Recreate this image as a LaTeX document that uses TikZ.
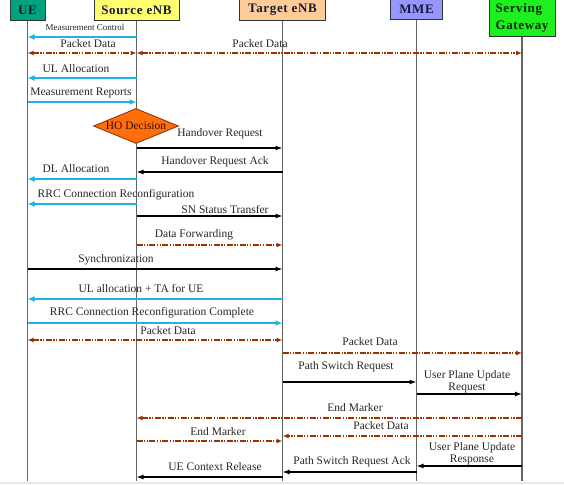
\documentclass[tikz,border=0pt]{standalone}
\usepackage{fontspec}
\setmainfont{Liberation Serif}
\newfontfamily\hdrfont[LetterSpace=5]{Liberation Serif}
\usetikzlibrary{arrows.meta,shapes.geometric}
\definecolor{cy}{RGB}{30,180,230}
\definecolor{br}{RGB}{153,51,0}
\definecolor{lg}{RGB}{100,100,100}
\definecolor{uef}{RGB}{0,163,125}
\definecolor{srcf}{RGB}{255,255,110}
\definecolor{tgtf}{RGB}{255,204,153}
\definecolor{mmef}{RGB}{150,150,255}
\definecolor{sgwf}{RGB}{30,240,30}
\definecolor{hof}{RGB}{255,110,10}
\definecolor{hdtxt}{RGB}{25,25,55}
\definecolor{band}{RGB}{228,233,240}
\tikzset{
  x=1pt, y=-1pt,
  hdr/.style={draw=black!80, line width=0.8pt, inner sep=0pt, font=\hdrfont\fontsize{13}{14}\selectfont\bfseries, text=hdtxt},
  life/.style={draw=lg, line width=1.3pt},
  lbl/.style={inner sep=0pt, font=\fontsize{11.5}{12}\selectfont, text=black!85},
  smlbl/.style={inner sep=0pt, font=\fontsize{9}{10}\selectfont, text=black!85},
  cyanmsg/.style={draw=cy, line width=1.8pt, -{Latex[length=7pt,width=6pt]}},
  blackmsg/.style={draw=black, line width=1.2pt, -{Latex[length=7pt,width=5pt]}},
  brmsg/.style={draw=br, line width=1.4pt, dash pattern=on 6pt off 1.5pt on 1.2pt off 1.5pt on 1.2pt off 1.5pt, -{Latex[length=6pt,width=5pt]}},
  brmsgb/.style={brmsg, {Latex[length=6pt,width=5pt]}-{Latex[length=6pt,width=5pt]}},
}
\begin{document}
\begin{tikzpicture}
\useasboundingbox (0,0) rectangle (564,484);
\fill[band] (0,482) rectangle (564,484);
% header boxes
\node[hdr, fill=uef, minimum width=35pt, minimum height=21pt] (ue) at (27.5,10) {UE};
\node[hdr, fill=srcf, minimum width=85pt, minimum height=21pt] (src) at (136.5,10) {Source eNB};
\node[hdr, fill=tgtf, minimum width=86pt, minimum height=21pt] (tgt) at (282.5,10) {Target eNB};
\node[hdr, fill=mmef, minimum width=52pt, minimum height=20pt] (mme) at (416.5,9.5) {MME};
\node[hdr, fill=sgwf, minimum width=66pt, minimum height=37pt, align=left, text=black!75!green!60!black, font=\hdrfont\fontsize{13}{16.5}\selectfont\bfseries] (sgw) at (522,18) {Serving\\Gateway};
% bottom coordinate
\coordinate (bot) at (0,481);
% lifelines
\draw[life] (ue.south) -- (ue.south |- bot);
\draw[life] (src.south) -- (src.south |- bot);
\draw[life] (tgt.south) -- (tgt.south |- bot);
\draw[life] (mme.south) -- (mme.south |- bot);
\draw[life] (sgw.south) -- (sgw.south |- bot);
% rows
\foreach \n/\y in {r1/37, r2/53, r3/78, r4/102, r5/148, r6/172, r7/179, r8/204, r9/216, r10/245, r11/269, r12/299, r13/323, r14/340, r15/353, r16/382, r17/394, r18/418, r19/436, r20/441, r21/466, r22/472, r23/477}
  \coordinate (\n) at (0,\y);
% HO decision
\node[diamond, draw=br!90!black, line width=0.8pt, fill=hof, aspect=2.45, inner sep=0pt, minimum width=85pt, minimum height=35pt, font=\fontsize{11.5}{12}\selectfont, text=black!70!br] (ho) at (136,126) {HO Decision};
% messages
\draw[cyanmsg] (src |- r1) -- (ue |- r1);
\node[smlbl] (l1) at (85,27) {Measurement Control};
\draw[brmsgb] (ue |- r2) -- (src |- r2);
\node[lbl] (l2) at (88,44) {Packet Data};
\draw[brmsgb] (src |- r2) -- (sgw |- r2);
\node[lbl] (l2b) at (260,44) {Packet Data};
\draw[cyanmsg] (src |- r3) -- (ue |- r3);
\node[lbl] (l3) at (76,69) {UL Allocation};
\draw[cyanmsg] (ue |- r4) -- (src |- r4);
\node[lbl] (l4) at (81,93) {Measurement Reports};
\draw[blackmsg] (src |- r5) -- (tgt |- r5);
\node[lbl] (l5) at (220,134) {Handover Request};
\draw[blackmsg] (tgt |- r6) -- (src |- r6);
\node[lbl] (l6) at (215,162) {Handover Request Ack};
\draw[cyanmsg] (src |- r7) -- (ue |- r7);
\node[lbl] (l7) at (76,169) {DL Allocation};
\draw[cyanmsg] (src |- r8) -- (ue |- r8);
\node[lbl] (l8) at (116,195) {RRC Connection Reconfiguration};
\draw[blackmsg] (src |- r9) -- (tgt |- r9);
\node[lbl] (l9) at (225,210) {SN Status Transfer};
\draw[brmsg] (src |- r10) -- (tgt |- r10);
\node[lbl] (l10) at (194,235) {Data Forwarding};
\draw[blackmsg] (ue |- r11) -- (tgt |- r11);
\node[lbl] (l11) at (116,260) {Synchronization};
\draw[cyanmsg] (tgt |- r12) -- (ue |- r12);
\node[lbl] (l12) at (141,289) {UL allocation + TA for UE};
\draw[cyanmsg] (ue |- r13) -- (tgt |- r13);
\node[lbl] (l13) at (152,313) {RRC Connection Reconfiguration Complete};
\draw[brmsgb] (ue |- r14) -- (tgt |- r14);
\node[lbl] (l14) at (168,331) {Packet Data};
\draw[brmsg] (tgt |- r15) -- (sgw |- r15);
\node[lbl] (l15) at (370,342) {Packet Data};
\draw[blackmsg] (tgt |- r16) -- (mme |- r16);
\node[lbl] (l16) at (346,367) {Path Switch Request};
\draw[blackmsg] (mme |- r17) -- (sgw |- r17);
\node[lbl, align=center] (l17) at (467,382) {User Plane Update\\Request};
\draw[brmsg] (sgw |- r18) -- (src |- r18);
\node[lbl] (l18) at (355,408) {End Marker};
\draw[brmsg] (sgw |- r19) -- (tgt |- r19);
\node[lbl] (l19) at (381,426) {Packet Data};
\draw[brmsg] (src |- r20) -- (tgt |- r20);
\node[lbl] (l20) at (218,432) {End Marker};
\draw[blackmsg] (sgw |- r21) -- (mme |- r21);
\node[lbl, align=center] (l21) at (472,453.5) {User Plane Update\\Response};
\draw[blackmsg] (mme |- r22) -- (tgt |- r22);
\node[lbl] (l22) at (352,462) {Path Switch Request Ack};
\draw[blackmsg] (tgt |- r23) -- (src |- r23);
\node[lbl] (l23) at (215,467) {UE Context Release};
\end{tikzpicture}
\end{document}
